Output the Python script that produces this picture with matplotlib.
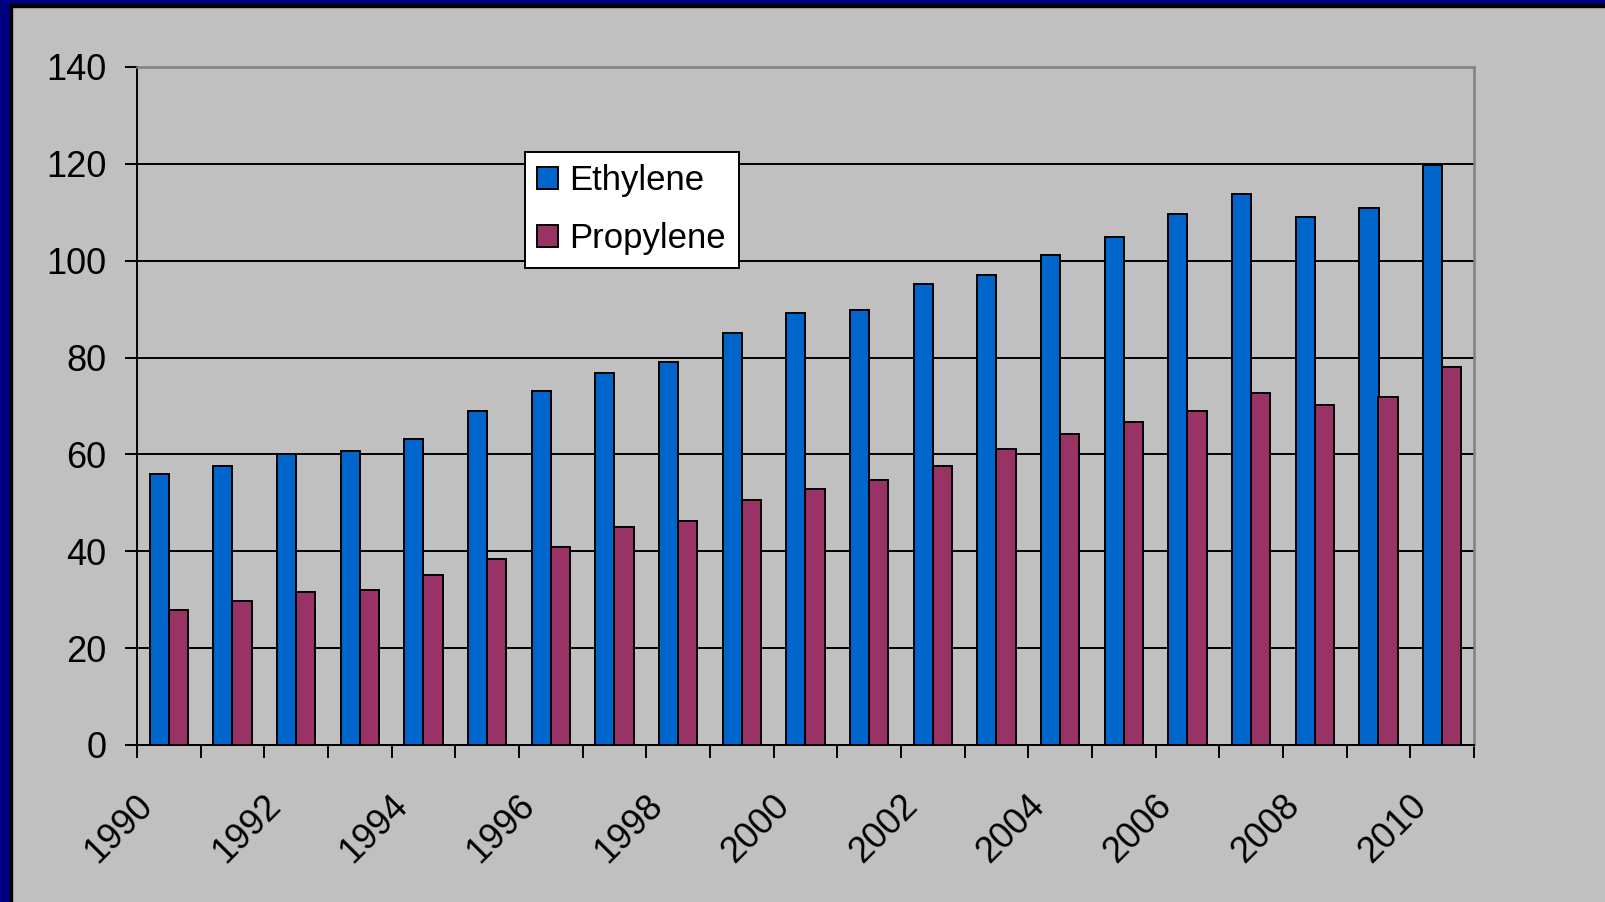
import numpy as np
from matplotlib import pyplot as plt
from matplotlib.patches import Rectangle
from matplotlib.transforms import ScaledTranslation

years = list(range(1990, 2011))
ethylene = [56, 57.7, 60.1, 60.7, 63.1, 69.0, 73.1, 76.8, 79.1, 85.1, 89.3, 89.9,
            95.2, 97.0, 101.2, 104.8, 109.6, 113.8, 109.0, 110.9, 119.8]
propylene = [27.9, 29.7, 31.5, 32.0, 35.1, 38.5, 40.8, 45.0, 46.3, 50.5, 52.9, 54.7,
             57.7, 61.2, 64.2, 66.7, 69.0, 72.7, 70.2, 71.9, 78.1]

BG = "#c0c0c0"
BLUE = "#0066cc"
MAROON = "#993366"

plt.rcParams["font.family"] = ["Liberation Sans", "DejaVu Sans"]

fig = plt.figure(figsize=(16.06, 9.02), dpi=100, facecolor=BG)
# slide border on left and top
fig.patches.append(Rectangle((0, 0), 10 / 1606, 1, transform=fig.transFigure, color="#000080", zorder=0))
fig.patches.append(Rectangle((0, 1 - 4 / 902), 1, 4 / 902, transform=fig.transFigure, color="#000080", zorder=0))
fig.patches.append(Rectangle((10 / 1606, 0), 2.5 / 1606, 1 - 4 / 902, transform=fig.transFigure, color="black", zorder=0))
fig.patches.append(Rectangle((10 / 1606, 1 - 7 / 902), 1, 3 / 902, transform=fig.transFigure, color="black", zorder=0))

ax = fig.add_axes([137 / 1606, 1 - 745 / 902, 1337 / 1606, 678 / 902])
ax.set_facecolor(BG)

x = np.arange(len(years))
w = 0.3
ax.bar(x - w / 2, ethylene, w, color=BLUE, edgecolor="black", linewidth=1.4, label="Ethylene", zorder=3)
ax.bar(x + w / 2, propylene, w, color=MAROON, edgecolor="black", linewidth=1.4, label="Propylene", zorder=3)

ax.set_xlim(-0.5, len(years) - 0.5)
ax.set_ylim(0, 140)
ax.set_yticks(range(0, 141, 20))
ax.yaxis.grid(True, color="black", linewidth=1.4)
ax.set_axisbelow(True)

for s in ["left", "bottom"]:
    ax.spines[s].set_color("black")
    ax.spines[s].set_linewidth(1.4)
for s in ["top", "right"]:
    ax.spines[s].set_color("#808080")
    ax.spines[s].set_linewidth(1.8)

ax.tick_params(axis="y", direction="out", length=9, width=1.4, pad=13, labelsize=26)
ax.set_xticks(x[::2])
ax.set_xticklabels([str(y) for y in years[::2]], rotation=45, ha="right", va="center",
                   rotation_mode="anchor", fontsize=26)
ax.set_xticks(np.arange(-0.5, len(years)), minor=True)
ax.tick_params(axis="x", which="major", length=0, pad=40)
ax.tick_params(axis="x", which="minor", direction="out", length=9, width=1.4)
shift = ScaledTranslation(-21 / 100, 0, fig.dpi_scale_trans)
for lab in ax.get_xticklabels():
    lab.set_transform(lab.get_transform() + shift)

leg = ax.legend(loc="upper left", bbox_to_anchor=(0.29, 0.875), borderaxespad=0,
                fontsize=25, fancybox=False, framealpha=1, edgecolor="black",
                handlelength=0.6, handleheight=0.6, handletextpad=0.33,
                labelspacing=0.72, borderpad=0.36)
leg.get_frame().set_linewidth(1.4)

fig.savefig("out.png", dpi=100, facecolor=BG)
